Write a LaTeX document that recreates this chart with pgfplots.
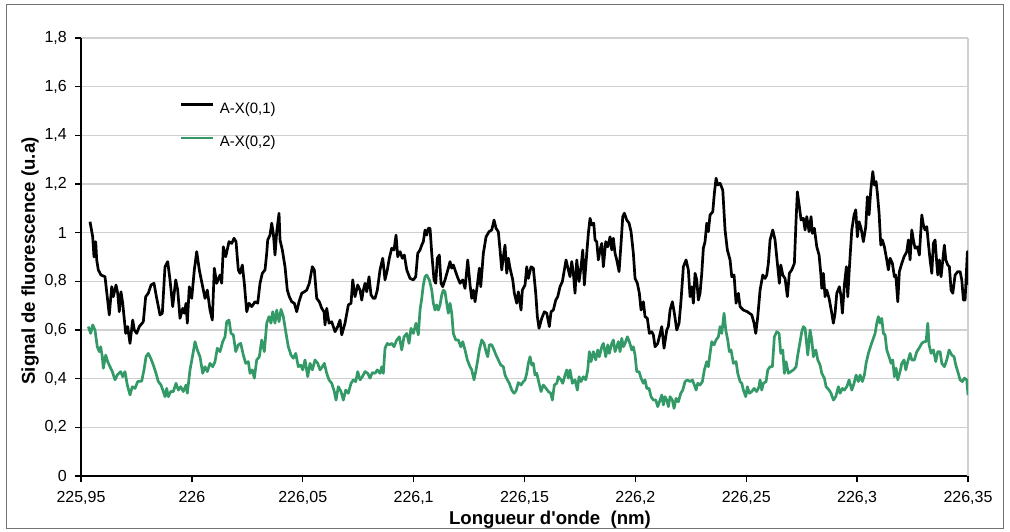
\documentclass[border=0pt]{standalone}
\usepackage{fontspec}
\setmainfont{Liberation Sans}
\usepackage{pgfplots}
\pgfplotsset{compat=1.18}
\definecolor{sgreen}{RGB}{51,153,102}
\definecolor{gridgray}{RGB}{208,208,208}
\begin{document}
\begin{tikzpicture}
\useasboundingbox (0pt,0pt) rectangle (1010pt,531pt);
\draw[black!55, line width=1.2pt] (6.5pt,2.5pt) rectangle (1003.5pt,526.5pt);
\begin{axis}[
  at={(81pt,55pt)}, anchor=south west,
  scale only axis, width=887pt, height=438pt,
  xmin=225.95, xmax=226.35, ymin=0, ymax=1.8,
  axis lines=left,
  axis line style={black, line width=2.4pt, -},
  xtick={225.95,226,226.05,226.1,226.15,226.2,226.25,226.3,226.35},
  xticklabels={{225,95},{226},{226,05},{226,1},{226,15},{226,2},{226,25},{226,3},{226,35}},
  ytick={0,0.2,0.4,0.6,0.8,1,1.2,1.4,1.6,1.8},
  extra x ticks={226.35},
  extra x tick labels={},
  extra x tick style={grid=major, major tick length=0pt},
  tick align=outside,
  major tick length=6pt,
  tick style={black, line width=1.4pt},
  ymajorgrids,
  major grid style={gridgray, line width=1.4pt},
  /pgf/number format/use comma,
  /pgf/number format/fixed,
  /pgf/number format/precision=1,
  /pgf/number format/assume math mode=true,
  tick label style={font=\fontsize{16}{19}\selectfont},
  yticklabel style={anchor=east, inner sep=0pt, xshift=-8pt},
  xticklabel style={anchor=north, inner sep=0pt, yshift=-9pt},
  xlabel={Longueur d\textquotesingle onde\ \ (nm)},
  xlabel style={font=\bfseries\fontsize{18.6}{22}\selectfont, at={(rel axis cs:0.5287,-0.1096)}, anchor=base},
  ylabel={Signal de fluorescence (u.a)},
  ylabel style={font=\bfseries\fontsize{18.6}{22}\selectfont, at={(rel axis cs:-0.0519,0.491)}, anchor=base, rotate=0},
  legend style={at={(rel axis cs:0.1115,0.853)}, anchor=north west, draw=none, fill=none, inner sep=0pt, row sep=21pt, column sep=5pt, font=\fontsize{15}{18}\selectfont, nodes={inner sep=0pt}},
  legend cell align=left,
  legend image code/.code={\draw[#1, line width=2.7pt] (0pt,4pt) -- (32pt,4pt);},
]
\addplot[black, line width=2.7pt, line join=round] coordinates {
(225.95406,1.045) (225.95528,0.983) (225.95586,0.900) (225.95663,0.963) (225.95708,0.888) (225.95780,0.847)
(225.95902,0.826) (225.96082,0.819) (225.96276,0.662) (225.96385,0.778) (225.96457,0.737) (225.96579,0.785)
(225.96655,0.751) (225.96727,0.675) (225.96804,0.757) (225.96881,0.710) (225.97016,0.586) (225.97106,0.614)
(225.97210,0.545) (225.97332,0.641) (225.97404,0.600) (225.97512,0.586) (225.97629,0.614) (225.97810,0.634)
(225.97918,0.737) (225.98035,0.751) (225.98157,0.785) (225.98292,0.792) (225.98414,0.730) (225.98563,0.662)
(225.98667,0.669) (225.98788,0.860) (225.98910,0.881) (225.99014,0.806) (225.99136,0.696) (225.99271,0.806)
(225.99361,0.764) (225.99465,0.648) (225.99587,0.689) (225.99659,0.669) (225.99736,0.710) (225.99794,0.628)
(225.99884,0.778) (225.99993,0.730) (226.00110,0.847) (226.00218,0.922) (226.00335,0.847) (226.00471,0.785)
(226.00592,0.730) (226.00696,0.764) (226.00818,0.682) (226.00922,0.641) (226.01012,0.854) (226.01120,0.792)
(226.01269,0.826) (226.01346,0.792) (226.01418,0.942) (226.01526,0.901) (226.01675,0.963) (226.01797,0.956)
(226.01900,0.977) (226.01991,0.963) (226.02094,0.847) (226.02171,0.833) (226.02275,0.867) (226.02365,0.792)
(226.02473,0.675) (226.02577,0.710) (226.02699,0.696) (226.02847,0.716) (226.02969,0.710) (226.03073,0.792)
(226.03177,0.833) (226.03298,0.847) (226.03375,0.915) (226.03420,0.970) (226.03524,0.990) (226.03601,1.039)
(226.03673,0.997) (226.03749,0.908) (226.03826,1.004) (226.03930,1.080) (226.03975,0.970) (226.04079,0.929)
(226.04200,0.860) (226.04304,0.764) (226.04394,0.737) (226.04503,0.716) (226.04620,0.710) (226.04728,0.675)
(226.04832,0.716) (226.04954,0.751) (226.05071,0.757) (226.05179,0.764) (226.05296,0.792) (226.05432,0.860)
(226.05522,0.847) (226.05630,0.730) (226.05747,0.716) (226.05856,0.689) (226.05959,0.675) (226.06004,0.621)
(226.06081,0.689) (226.06185,0.628) (226.06307,0.634) (226.06455,0.593) (226.06577,0.614) (226.06681,0.641)
(226.06758,0.580) (226.06906,0.628) (226.07055,0.703) (226.07177,0.710) (226.07254,0.806) (226.07357,0.737)
(226.07479,0.785) (226.07583,0.764) (226.07660,0.723) (226.07732,0.764) (226.07808,0.792) (226.07885,0.757)
(226.07989,0.819) (226.08079,0.744) (226.08183,0.730) (226.08259,0.730) (226.08363,0.764) (226.08485,0.847)
(226.08607,0.895) (226.08710,0.806) (226.08814,0.847) (226.08904,0.895) (226.09013,0.936) (226.09116,0.929)
(226.09207,0.990) (226.09283,0.901) (226.09387,0.922) (226.09491,0.895) (226.09581,0.908) (226.09689,0.847)
(226.09838,0.812) (226.09987,0.806) (226.10095,0.819) (226.10185,0.915) (226.10289,0.929) (226.10366,0.949)
(226.10438,0.963) (226.10514,1.011) (226.10591,0.990) (226.10663,1.018) (226.10740,1.018) (226.10817,0.915)
(226.10920,0.806) (226.10997,0.792) (226.11069,0.895) (226.11159,0.908) (226.11236,0.792) (226.11313,0.778)
(226.11416,0.806) (226.11565,0.854) (226.11642,0.881) (226.11719,0.854) (226.11791,0.867) (226.11867,0.847)
(226.11971,0.819) (226.12093,0.792) (226.12215,0.806) (226.12318,0.771) (226.12440,0.888) (226.12544,0.785)
(226.12621,0.730) (226.12693,0.764) (226.12769,0.716) (226.12873,0.785) (226.12963,0.854) (226.13027,0.778)
(226.13144,0.915) (226.13266,0.983) (226.13401,1.004) (226.13523,1.011) (226.13626,1.052) (226.13717,1.018)
(226.13820,1.004) (226.13897,0.929) (226.13974,0.847) (226.14046,0.901) (226.14122,0.949) (226.14199,0.833)
(226.14271,0.895) (226.14348,0.854) (226.14470,0.806) (226.14542,0.751) (226.14650,0.710) (226.14722,0.757)
(226.14844,0.682) (226.14903,0.764) (226.15024,0.785) (226.15101,0.860) (226.15173,0.812) (226.15295,0.860)
(226.15399,0.854) (226.15507,0.751) (226.15579,0.655) (226.15656,0.607) (226.15778,0.648) (226.15895,0.675)
(226.16003,0.669) (226.16120,0.614) (226.16197,0.675) (226.16301,0.682) (226.16409,0.723) (226.16499,0.737)
(226.16603,0.778) (226.16707,0.799) (226.16797,0.847) (226.16874,0.888) (226.16977,0.847) (226.17054,0.819)
(226.17131,0.881) (226.17203,0.833) (226.17279,0.751) (226.17356,0.888) (226.17460,0.799) (226.17550,0.860)
(226.17627,0.929) (226.17699,0.785) (226.17807,0.915) (226.17879,0.997) (226.17956,1.059) (226.18033,1.032)
(226.18123,1.039) (226.18181,0.970) (226.18258,0.963) (226.18330,0.888) (226.18407,0.929) (226.18484,0.956)
(226.18556,0.860) (226.18664,0.963) (226.18754,0.942) (226.18858,0.983) (226.18935,0.929) (226.19007,0.977)
(226.19083,0.915) (226.19160,0.888) (226.19264,0.840) (226.19354,0.956) (226.19431,1.066) (226.19503,1.080)
(226.19611,1.052) (226.19715,1.039) (226.19805,1.004) (226.19909,0.915) (226.19985,0.812) (226.20089,0.792)
(226.20179,0.751) (226.20256,0.682) (226.20360,0.716) (226.20436,0.655) (226.20540,0.648) (226.20630,0.586)
(226.20739,0.593) (226.20811,0.580) (226.20887,0.531) (226.21009,0.545) (226.21081,0.572) (226.21190,0.614)
(226.21293,0.525) (226.21415,0.600) (226.21487,0.614) (226.21564,0.682) (226.21668,0.716) (226.21758,0.669)
(226.21866,0.600) (226.21970,0.628) (226.22060,0.723) (226.22164,0.860) (226.22286,0.888) (226.22389,0.847)
(226.22466,0.737) (226.22543,0.778) (226.22615,0.710) (226.22691,0.833) (226.22768,0.806) (226.22840,0.723)
(226.22917,0.751) (226.22994,0.833) (226.23066,0.936) (226.23142,0.963) (226.23219,1.039) (226.23291,1.004)
(226.23368,1.073) (226.23490,1.086) (226.23562,1.162) (226.23639,1.224) (226.23715,1.196) (226.23819,1.203)
(226.23941,1.175) (226.24044,1.011) (226.24148,0.929) (226.24270,0.888) (226.24347,0.819) (226.24450,0.826)
(226.24541,0.710) (226.24644,0.751) (226.24721,0.696) (226.24870,0.682) (226.25050,0.675) (226.25249,0.662)
(226.25352,0.628) (226.25429,0.586) (226.25519,0.655) (226.25623,0.764) (226.25745,0.826) (226.25848,0.812)
(226.25925,0.826) (226.25997,0.874) (226.26074,0.970) (226.26196,1.011) (226.26299,0.970) (226.26403,0.874)
(226.26493,0.792) (226.26557,0.867) (226.26647,0.826) (226.26750,0.812) (226.26854,0.737) (226.26944,0.833)
(226.27053,0.847) (226.27170,0.874) (226.27247,1.052) (226.27305,1.168) (226.27395,1.107) (226.27472,1.052)
(226.27576,1.059) (226.27652,1.011) (226.27729,1.066) (226.27833,1.004) (226.27923,1.066) (226.27982,0.997)
(226.28072,1.018) (226.28180,0.942) (226.28284,0.908) (226.28361,0.833) (226.28406,0.771) (226.28478,0.833)
(226.28554,0.737) (226.28631,0.764) (226.28735,0.730) (226.28857,0.669) (226.28929,0.628) (226.29005,0.669)
(226.29082,0.751) (226.29199,0.778) (226.29276,0.737) (226.29335,0.669) (226.29425,0.785) (226.29515,0.860)
(226.29578,0.737) (226.29650,0.854) (226.29759,1.011) (226.29862,1.073) (226.29939,1.094) (226.30011,0.983)
(226.30088,1.045) (226.30178,1.018) (226.30282,0.963) (226.30390,1.025) (226.30462,1.148) (226.30539,1.073)
(226.30616,1.175) (226.30706,1.251) (226.30778,1.196) (226.30855,1.210) (226.30913,1.162) (226.30990,1.080)
(226.31067,0.949) (226.31139,0.970) (226.31229,0.942) (226.31337,0.888) (226.31409,0.847) (226.31486,0.895)
(226.31590,0.874) (226.31680,0.819) (226.31743,0.826) (226.31833,0.716) (226.31905,0.840) (226.32014,0.874)
(226.32117,0.901) (226.32239,0.922) (226.32311,0.970) (226.32388,0.888) (226.32465,1.011) (226.32537,0.970)
(226.32613,0.936) (226.32717,0.942) (226.32807,0.908) (226.32916,1.073) (226.32988,1.032) (226.33064,1.011)
(226.33141,1.025) (226.33213,0.956) (226.33290,0.888) (226.33367,0.833) (226.33439,0.956) (226.33515,0.970)
(226.33592,0.874) (226.33637,0.826) (226.33709,0.888) (226.33786,0.819) (226.33863,0.888) (226.33935,0.949)
(226.33998,0.888) (226.34088,0.867) (226.34160,0.860) (226.34237,0.764) (226.34314,0.751) (226.34417,0.826)
(226.34539,0.840) (226.34643,0.840) (226.34720,0.806) (226.34792,0.723) (226.34868,0.723) (226.34972,0.922)
(226.35000,0.785)
};
\addlegendentry{A-X(0,1)}
\addplot[sgreen, line width=2.7pt, line join=round] coordinates {
(225.95329,0.614) (225.95437,0.586) (225.95528,0.621) (225.95631,0.600) (225.95735,0.531) (225.95825,0.511)
(225.95888,0.531) (225.95961,0.490) (225.96006,0.443) (225.96114,0.497) (225.96204,0.470) (225.96308,0.449)
(225.96412,0.429) (225.96533,0.395) (225.96637,0.415) (225.96791,0.429) (225.96881,0.408) (225.96984,0.429)
(225.97088,0.374) (225.97210,0.333) (225.97314,0.367) (225.97435,0.360) (225.97557,0.388) (225.97738,0.390)
(225.97841,0.436) (225.97932,0.490) (225.98035,0.504) (225.98144,0.484) (225.98261,0.456) (225.98383,0.422)
(225.98486,0.388) (225.98608,0.374) (225.98712,0.347) (225.98788,0.326) (225.98865,0.360) (225.98937,0.326)
(225.99046,0.347) (225.99163,0.347) (225.99285,0.381) (225.99388,0.353) (225.99497,0.367) (225.99614,0.347)
(225.99736,0.374) (225.99794,0.340) (225.99916,0.436) (226.00038,0.497) (226.00141,0.552) (226.00245,0.518)
(226.00367,0.490) (226.00489,0.422) (226.00592,0.449) (226.00696,0.429) (226.00818,0.463) (226.00940,0.449)
(226.01043,0.470) (226.01147,0.525) (226.01269,0.511) (226.01391,0.552) (226.01494,0.572) (226.01571,0.634)
(226.01675,0.641) (226.01765,0.586) (226.01869,0.580) (226.01977,0.511) (226.02094,0.539) (226.02203,0.545)
(226.02320,0.497) (226.02428,0.463) (226.02545,0.470) (226.02622,0.422) (226.02726,0.436) (226.02816,0.402)
(226.02924,0.477) (226.03041,0.490) (226.03150,0.559) (226.03267,0.511) (226.03375,0.628) (226.03479,0.655)
(226.03569,0.628) (226.03646,0.675) (226.03749,0.628) (226.03826,0.682) (226.03930,0.634) (226.04020,0.685)
(226.04124,0.655) (226.04246,0.586) (226.04349,0.531) (226.04471,0.497) (226.04575,0.484) (226.04683,0.504)
(226.04800,0.449) (226.04909,0.456) (226.04999,0.436) (226.05102,0.477) (226.05224,0.408) (226.05328,0.463)
(226.05432,0.436) (226.05553,0.477) (226.05675,0.463) (226.05779,0.436) (226.05883,0.449) (226.05973,0.463)
(226.06081,0.422) (226.06185,0.395) (226.06307,0.381) (226.06424,0.347) (226.06501,0.312) (226.06604,0.367)
(226.06726,0.347) (226.06830,0.312) (226.06938,0.353) (226.07055,0.340) (226.07177,0.381) (226.07281,0.395)
(226.07389,0.388) (226.07479,0.429) (226.07583,0.395) (226.07687,0.408) (226.07808,0.429) (226.07930,0.422)
(226.08034,0.402) (226.08138,0.425) (226.08259,0.422) (226.08363,0.436) (226.08485,0.422) (226.08562,0.449)
(226.08634,0.422) (226.08710,0.525) (226.08814,0.545) (226.08904,0.539) (226.09013,0.545) (226.09116,0.531)
(226.09238,0.559) (226.09355,0.572) (226.09464,0.518) (226.09567,0.572) (226.09689,0.586) (226.09793,0.545)
(226.09883,0.607) (226.09987,0.586) (226.10109,0.628) (226.10212,0.580) (226.10289,0.682) (226.10366,0.730)
(226.10438,0.785) (226.10514,0.819) (226.10591,0.826) (226.10708,0.806) (226.10817,0.764) (226.10889,0.710)
(226.10965,0.682) (226.11042,0.703) (226.11114,0.682) (226.11191,0.703) (226.11268,0.744) (226.11340,0.764)
(226.11416,0.757) (226.11492,0.710) (226.11565,0.669) (226.11642,0.710) (226.11719,0.669) (226.11791,0.586)
(226.11899,0.559) (226.12016,0.559) (226.12125,0.531) (226.12215,0.552) (226.12318,0.518) (226.12422,0.477)
(226.12544,0.449) (226.12621,0.436) (226.12724,0.395) (226.12815,0.436) (226.12891,0.477) (226.12963,0.518)
(226.13072,0.559) (226.13175,0.545) (226.13266,0.511) (226.13342,0.490) (226.13414,0.539) (226.13523,0.539)
(226.13626,0.518) (226.13717,0.497) (226.13820,0.477) (226.13929,0.456) (226.14046,0.449) (226.14122,0.415)
(226.14226,0.395) (226.14316,0.381) (226.14425,0.353) (226.14528,0.340) (226.14619,0.350) (226.14722,0.384)
(226.14844,0.374) (226.14948,0.388) (226.15024,0.395) (226.15101,0.422) (226.15173,0.463) (226.15250,0.490)
(226.15327,0.456) (226.15399,0.463) (226.15475,0.415) (226.15552,0.422) (226.15656,0.381) (226.15746,0.347)
(226.15850,0.374) (226.15972,0.360) (226.16075,0.347) (226.16184,0.340) (226.16256,0.312) (226.16346,0.374)
(226.16454,0.381) (226.16526,0.408) (226.16648,0.395) (226.16725,0.381) (226.16828,0.415) (226.16905,0.436)
(226.16977,0.402) (226.17054,0.436) (226.17158,0.381) (226.17279,0.395) (226.17383,0.353) (226.17460,0.408)
(226.17550,0.388) (226.17654,0.408) (226.17762,0.395) (226.17852,0.436) (226.17924,0.511) (226.18001,0.470)
(226.18105,0.511) (226.18213,0.477) (226.18303,0.518) (226.18375,0.490) (226.18484,0.531) (226.18556,0.545)
(226.18664,0.490) (226.18754,0.539) (226.18826,0.504) (226.18935,0.545) (226.19007,0.559) (226.19083,0.511)
(226.19160,0.531) (226.19232,0.552) (226.19309,0.511) (226.19386,0.566) (226.19458,0.531) (226.19534,0.545)
(226.19638,0.572) (226.19728,0.552) (226.19837,0.518) (226.19909,0.531) (226.19985,0.497) (226.20062,0.429)
(226.20166,0.429) (226.20256,0.402) (226.20360,0.381) (226.20436,0.395) (226.20513,0.360) (226.20617,0.360)
(226.20707,0.326) (226.20811,0.312) (226.20919,0.312) (226.21009,0.285) (226.21113,0.312) (226.21190,0.333)
(226.21262,0.292) (226.21338,0.326) (226.21415,0.312) (226.21487,0.285) (226.21564,0.326) (226.21668,0.312)
(226.21744,0.278) (226.21835,0.319) (226.21938,0.305) (226.22047,0.340) (226.22137,0.353) (226.22240,0.388)
(226.22344,0.395) (226.22466,0.388) (226.22570,0.395) (226.22660,0.374) (226.22737,0.353) (226.22813,0.381)
(226.22917,0.374) (226.23021,0.388) (226.23111,0.436) (226.23219,0.470) (226.23291,0.449) (226.23368,0.504)
(226.23445,0.552) (226.23548,0.539) (226.23639,0.559) (226.23742,0.572) (226.23819,0.614) (226.23896,0.586)
(226.23999,0.669) (226.24076,0.600) (226.24166,0.559) (226.24238,0.511) (226.24315,0.518) (226.24419,0.463)
(226.24541,0.470) (226.24617,0.422) (226.24721,0.388) (226.24798,0.381) (226.24870,0.353) (226.24978,0.326)
(226.25050,0.367) (226.25140,0.340) (226.25249,0.347) (226.25352,0.360) (226.25472,0.347) (226.25576,0.367)
(226.25623,0.395) (226.25700,0.353) (226.25772,0.381) (226.25894,0.388) (226.25970,0.436) (226.26074,0.449)
(226.26178,0.449) (226.26268,0.572) (226.26376,0.593) (226.26480,0.586) (226.26557,0.504) (226.26647,0.518)
(226.26719,0.422) (226.26796,0.470) (226.26899,0.422) (226.27008,0.429) (226.27125,0.436) (226.27247,0.449)
(226.27323,0.497) (226.27427,0.552) (226.27504,0.593) (226.27576,0.614) (226.27652,0.607) (226.27774,0.497)
(226.27878,0.600) (226.27955,0.559) (226.28027,0.490) (226.28135,0.518) (226.28225,0.477) (226.28329,0.456)
(226.28406,0.422) (226.28523,0.402) (226.28600,0.367) (226.28735,0.353) (226.28825,0.340) (226.28929,0.312)
(226.29037,0.326) (226.29154,0.367) (226.29231,0.340) (226.29335,0.360) (226.29425,0.353) (226.29533,0.367)
(226.29637,0.395) (226.29759,0.353) (226.29862,0.381) (226.29953,0.415) (226.30056,0.388) (226.30133,0.415)
(226.30237,0.388) (226.30327,0.415) (226.30404,0.463) (226.30507,0.504) (226.30629,0.539) (226.30733,0.566)
(226.30809,0.586) (226.30886,0.628) (226.30958,0.655) (226.31035,0.628) (226.31112,0.648) (226.31184,0.586)
(226.31260,0.580) (226.31337,0.518) (226.31441,0.490) (226.31531,0.463) (226.31608,0.477) (226.31680,0.408)
(226.31757,0.443) (226.31833,0.395) (226.31937,0.429) (226.32014,0.463) (226.32117,0.477) (226.32194,0.436)
(226.32284,0.470) (226.32388,0.504) (226.32465,0.477) (226.32582,0.477) (226.32690,0.511) (226.32794,0.525)
(226.32916,0.545) (226.33019,0.552) (226.33110,0.552) (226.33186,0.628) (226.33245,0.539) (226.33335,0.504)
(226.33439,0.518) (226.33547,0.470) (226.33637,0.511) (226.33741,0.511) (226.33818,0.463) (226.33935,0.449)
(226.34042,0.477) (226.34147,0.518) (226.34269,0.497) (226.34372,0.490) (226.34449,0.456) (226.34539,0.429)
(226.34643,0.395) (226.34747,0.388) (226.34837,0.402) (226.34945,0.395) (226.35000,0.333)
};
\addlegendentry{A-X(0,2)}
\end{axis}
\end{tikzpicture}
\end{document}
